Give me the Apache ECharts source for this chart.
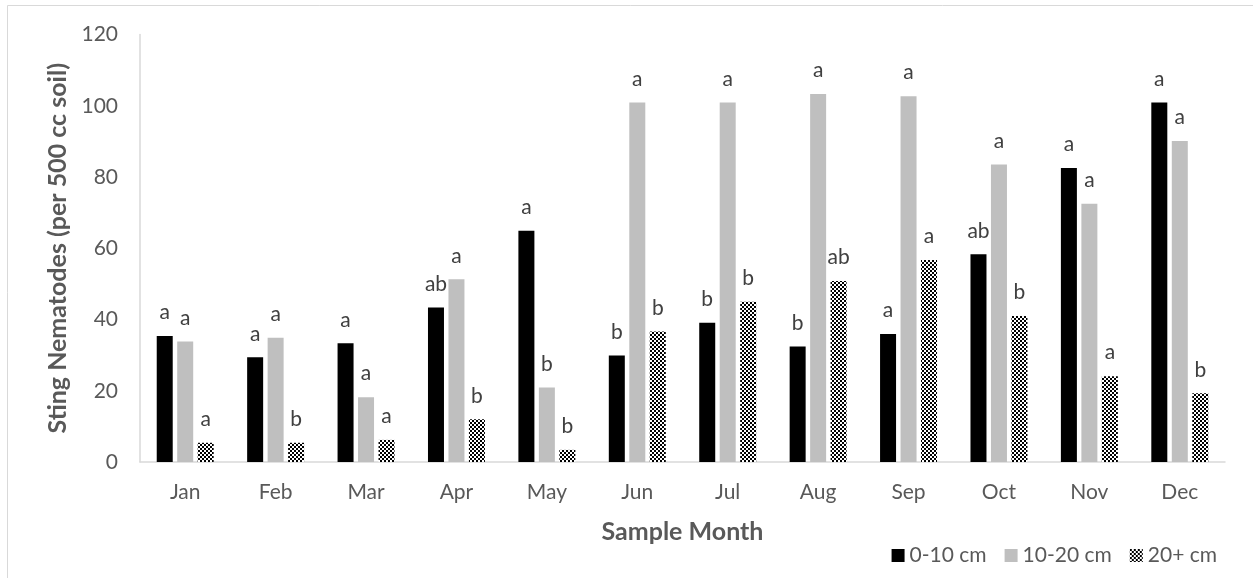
<!DOCTYPE html>
<html>
<head>
<meta charset="utf-8">
<script src="https://cdn.jsdelivr.net/npm/echarts@6/dist/echarts.min.js"></script>
<style>html,body{margin:0;padding:0;background:#fff;}#c{width:1253px;height:578px;}</style>
</head>
<body>
<div id="c"></div>
<script>
const months = ['Jan','Feb','Mar','Apr','May','Jun','Jul','Aug','Sep','Oct','Nov','Dec'];
const depth0_10 = [35.4, 29.4, 33.3, 43.4, 64.9, 29.9, 39.1, 32.4, 35.9, 58.3, 82.5, 100.9];
const depth10_20 = [33.8, 34.9, 18.2, 51.3, 20.9, 100.9, 100.9, 103.3, 102.7, 83.5, 72.5, 90.1];
const depth20plus = [5.4, 5.4, 6.2, 12.0, 3.4, 36.6, 45.0, 50.8, 56.7, 41.0, 24.1, 19.3];
const letters0_10 = ['a','a','a','ab','a','b','b','b','a','ab','a','a'];
const letters10_20 = ['a','a','a','a','b','a','a','a','a','a','a','a'];
const letters20plus = ['a','b','a','b','b','b','b','ab','a','b','a','b'];
const seriesNames = ['0-10 cm','10-20 cm','20+ cm'];
const yTicks = {min: 0, max: 120, interval: 20};

const FONT = 'Lato';
const pc = document.createElement('canvas');
pc.width = 4; pc.height = 4;
const pctx = pc.getContext('2d');
pctx.fillStyle = '#ffffff'; pctx.fillRect(0,0,4,4);
pctx.fillStyle = '#000000'; pctx.fillRect(0,0,2,2); pctx.fillRect(2,2,2,2);
const checker = {image: pc, repeat: 'repeat'};

function mk(name, data, letters, color) {
  return {
    name: name, type: 'bar', data: data, barWidth: 16, barGap: '28%',
    itemStyle: {color: color},
    label: {
      show: true, position: 'top', distance: 13,
      color: '#404040', fontFamily: FONT, fontSize: 21,
      formatter: p => letters[p.dataIndex]
    }
  };
}

const chart = echarts.init(document.getElementById('c'));
chart.setOption({
  animation: false,
  backgroundColor: '#ffffff',
  textStyle: {fontFamily: FONT},
  graphic: [{type: 'rect', shape: {x: 7.5, y: 5.5, width: 1300, height: 700}, style: {fill: 'none', stroke: '#d9d9d9', lineWidth: 1}, silent: true}],
  grid: {left: 140, right: 28, top: 34.5, bottom: 116, containLabel: false},
  legend: {
    right: 31, top: 540, itemWidth: 13, itemHeight: 13, itemGap: 18, itemTextGap: 6,
    icon: 'rect',
    textStyle: {color: '#595959', fontFamily: FONT, fontSize: 21},
    data: seriesNames
  },
  xAxis: {
    type: 'category', data: months,
    axisLine: {lineStyle: {color: '#d9d9d9', width: 1.5}},
    axisTick: {show: false},
    axisLabel: {color: '#595959', fontFamily: FONT, fontSize: 21, margin: 20},
    name: 'Sample Month', nameLocation: 'middle', nameGap: 57,
    nameTextStyle: {color: '#595959', fontFamily: FONT, fontSize: 25, fontWeight: 'bold'}
  },
  yAxis: {
    type: 'value', min: yTicks.min, max: yTicks.max, interval: yTicks.interval,
    axisLine: {show: true, lineStyle: {color: '#d9d9d9', width: 1.5}},
    axisTick: {show: false},
    splitLine: {show: false},
    axisLabel: {color: '#595959', fontFamily: FONT, fontSize: 21, margin: 22},
    name: 'Sting Nematodes (per 500 cc soil)', nameLocation: 'middle', nameGap: 68,
    nameTextStyle: {color: '#595959', fontFamily: FONT, fontSize: 25, fontWeight: 'bold'}
  },
  series: [
    mk(seriesNames[0], depth0_10, letters0_10, '#000000'),
    mk(seriesNames[1], depth10_20, letters10_20, '#bfbfbf'),
    mk(seriesNames[2], depth20plus, letters20plus, checker)
  ]
});
</script>
</body>
</html>
